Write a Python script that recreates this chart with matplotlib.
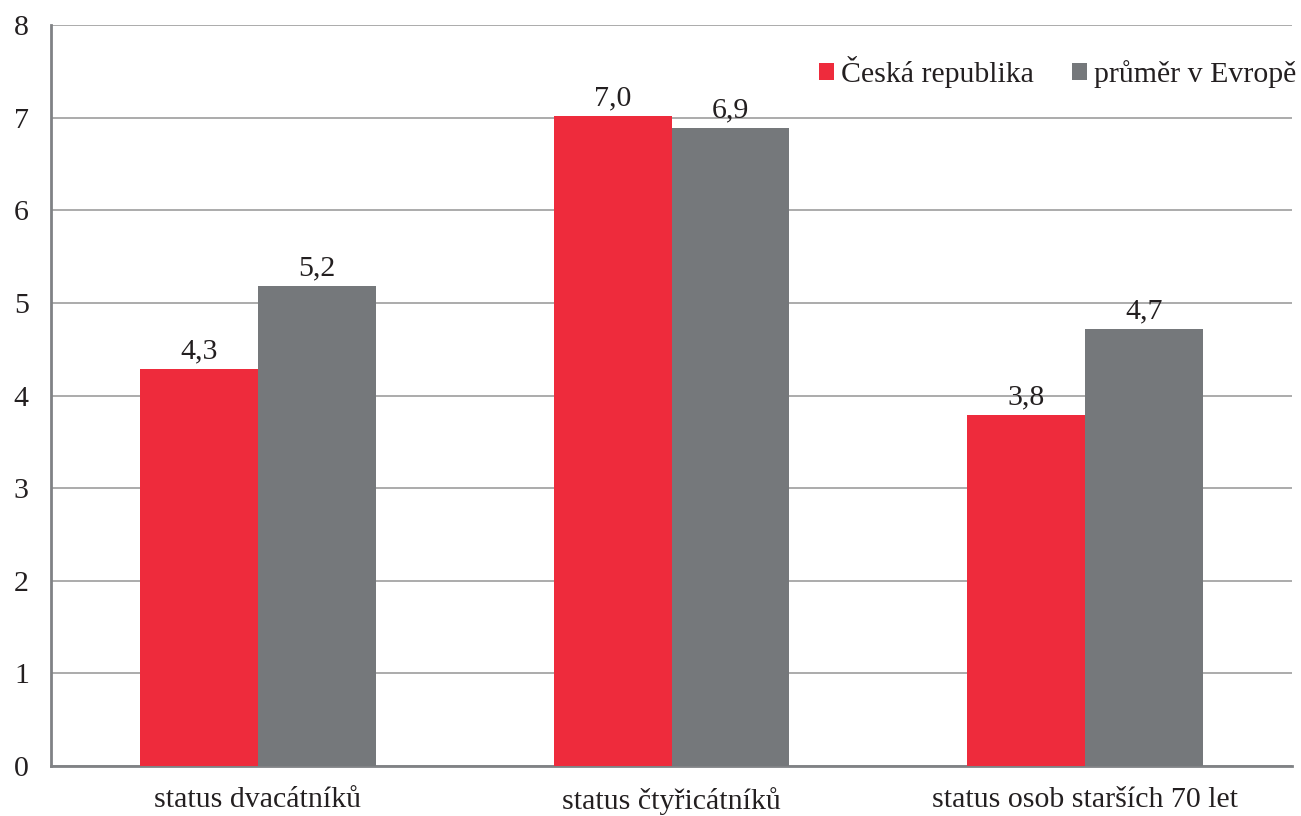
import matplotlib.pyplot as plt
import numpy as np

plt.rcParams['font.family'] = ['Liberation Serif', 'DejaVu Serif']

categories = ['status dvacátníků', 'status čtyřicátníků', 'status osob starších 70 let']
cz_values = [4.29, 7.02, 3.79]
eu_values = [5.18, 6.89, 4.72]
cz_labels = ['4,3', '7,0', '3,8']
eu_labels = ['5,2', '6,9', '4,7']
series_names = ['Česká republika', 'průměr v Evropě']

red = '#EE2B3C'
gray = '#75787B'
fs = 21.5

fig = plt.figure(figsize=(13.01, 8.16), dpi=100)
ax = fig.add_axes([51 / 1301, 50 / 816, (1292 - 51) / 1301, (766 - 25) / 816])

x = np.arange(len(categories))
width = 0.285
b1 = ax.bar(x - width / 2, cz_values, width=width, color=red, label=series_names[0], zorder=3)
b2 = ax.bar(x + width / 2, eu_values, width=width, color=gray, label=series_names[1], zorder=3)

for bars, labels in ((b1, cz_labels), (b2, eu_labels)):
    for rect, lab in zip(bars, labels):
        ax.text(rect.get_x() + rect.get_width() / 2, rect.get_height() + 0.05, lab,
                ha='center', va='bottom', fontsize=fs, color='#231F20')

ax.set_xlim(-0.5, 2.5)
ax.set_ylim(0, 8)
ax.set_yticks(range(0, 9))
ax.set_xticks(x)
ax.set_xticklabels(categories)
ax.tick_params(axis='both', length=0, labelsize=fs, colors='#231F20')
ax.tick_params(axis='y', pad=16)
ax.tick_params(axis='x', pad=15)
ax.yaxis.grid(True, color='#9D9D9D', linewidth=1.2, zorder=0)
ax.set_axisbelow(True)

for side in ('top', 'right'):
    ax.spines[side].set_visible(False)
for side in ('left', 'bottom'):
    ax.spines[side].set_color('#808285')
    ax.spines[side].set_linewidth(2)

ax.legend(loc='upper right', bbox_to_anchor=(1.018, 0.982), ncol=2, frameon=False,
          fontsize=fs, handlelength=0.5, handleheight=0.5, handletextpad=0.25,
          columnspacing=1.27, borderaxespad=0.2, labelcolor='#231F20')

fig.savefig('out.png', dpi=100)
